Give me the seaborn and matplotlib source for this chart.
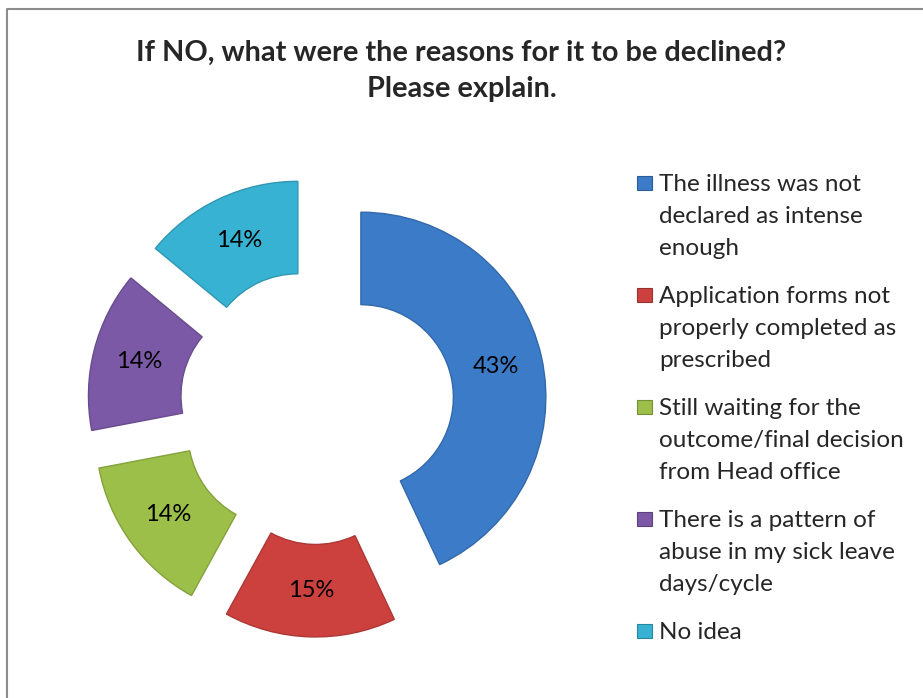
import matplotlib
matplotlib.use('Agg')
import matplotlib.pyplot as plt
import matplotlib.colors as mc
from matplotlib.patches import Rectangle
from matplotlib.lines import Line2D
import seaborn as sns

# ---- data ----
categories = [
    "The illness was not\ndeclared as intense\nenough",
    "Application forms not\nproperly completed as\nprescribed",
    "Still waiting for the\noutcome/final decision\nfrom Head office",
    "There is a pattern of\nabuse in my sick leave\ndays/cycle",
    "No idea",
]
values = [43, 15, 14, 14, 14]
colors = ["#3c7bc8", "#cc413e", "#9bbf48", "#7b59a6", "#38b2d2"]
title = "If NO, what were the reasons for it to be declined?\nPlease explain."

sns.set_theme(style="white")
plt.rcParams['font.family'] = ['Lato', 'DejaVu Sans']

W, H = 923, 698
fig = plt.figure(figsize=(W / 100, H / 100), dpi=100)
fig.patch.set_facecolor("white")

# donut axes
cx, cy, R = 317, 407, 185
half = 1.3 * R
ax = fig.add_axes([(cx - half) / W, (H - cy - half) / H, 2 * half / W, 2 * half / H])
palette = sns.color_palette(colors)
wedges, texts, autotexts = ax.pie(
    values, explode=[0.243] * len(values), startangle=90, counterclock=False,
    colors=palette, autopct=lambda p: f"{p:.0f}%", pctdistance=0.75,
    wedgeprops=dict(width=0.5, linewidth=1.0),
    textprops=dict(fontsize=17, color="black"),
)
for w, c in zip(wedges, colors):
    r, g, b = mc.to_rgb(c)
    w.set_edgecolor((r * 0.85, g * 0.85, b * 0.85))
ax.set_xlim(-1.3, 1.3)
ax.set_ylim(-1.3, 1.3)
ax.set_aspect("equal")
ax.axis("off")

# title
fig.text(461.5 / W, 1 - 71 / H, title, ha="center", va="center",
         fontsize=20.8, fontweight="bold", linespacing=1.5)

# legend (manual, handle aligned with first line)
line_h = 32
gap = 16
y = 183
for cat, col in zip(categories, colors):
    r, g, b = mc.to_rgb(col)
    fig.add_artist(Rectangle(((637) / W, 1 - (y + 7) / H), 15 / W, 14 / H,
                             transform=fig.transFigure, facecolor=col,
                             edgecolor=(r * 0.75, g * 0.75, b * 0.75), linewidth=0.8))
    fig.text(659 / W, 1 - (y - 9) / H, cat, ha="left", va="top",
             fontsize=17.5, linespacing=1.66)
    n = cat.count("\n") + 1
    y += n * line_h + gap

# chart frame (top and left edges visible)
fig.add_artist(Line2D([6.5 / W, 6.5 / W, 1.0], [0.0, 1 - 8.5 / H, 1 - 8.5 / H],
                      transform=fig.transFigure, color="#8c8c8c", linewidth=1.5))

fig.savefig("out.png", dpi=100, facecolor="white")
